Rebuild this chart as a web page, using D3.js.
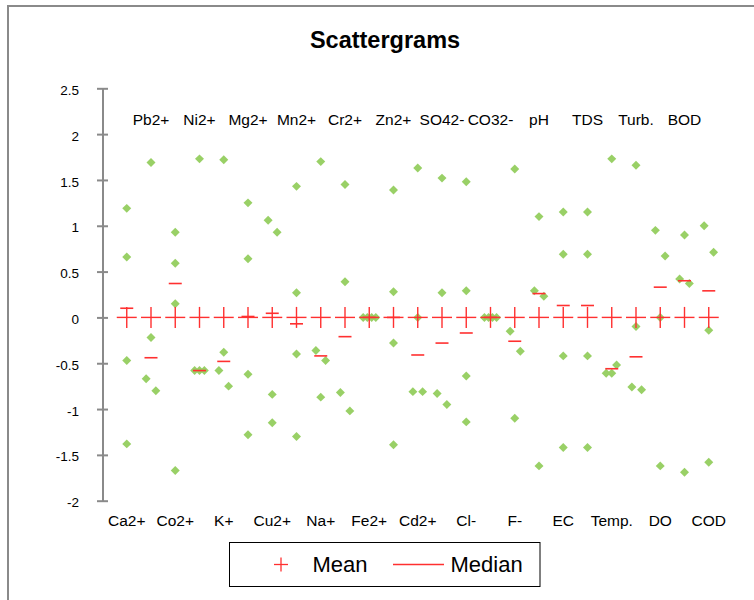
<!DOCTYPE html>
<html>
<head>
<meta charset="utf-8">
<script src="https://cdn.jsdelivr.net/npm/d3@7"></script>
<style>
  html, body { margin: 0; padding: 0; background: #fff; }
  svg { display: block; font-family: "Liberation Sans", Arial, sans-serif; }
</style>
</head>
<body>
<svg id="chart" width="754" height="600"></svg>
<script>
// ---- data ----
const categories = ["Ca2+","Pb2+","Co2+","Ni2+","K+","Mg2+","Cu2+","Mn2+","Na+","Cr2+","Fe2+","Zn2+","Cd2+",
                    "SO42-","Cl-","CO32-","F-","pH","EC","TDS","Temp.","Turb.","DO","BOD","COD"];
// four standardized observations per category
const pointValues = [
  [1.19, 0.66, -0.47, -1.38],
  [1.69, -0.22, -0.67, -0.80],
  [0.93, 0.59, 0.15, -1.67],
  [1.73, -0.58, -0.58, -0.58],
  [1.72, -0.38, -0.58, -0.75],
  [1.25, 0.64, -0.62, -1.28],
  [1.06, 0.93, -0.84, -1.15],
  [1.43, 0.27, -0.40, -1.30],
  [1.70, -0.36, -0.47, -0.87],
  [1.45, 0.39, -0.82, -1.02],
  [0.00, 0.00, 0.00, 0.00],
  [1.39, 0.28, -0.28, -1.39],
  [1.63, 0.00, -0.81, -0.81],
  [1.52, 0.27, -0.83, -0.95],
  [1.48, 0.29, -0.64, -1.14],
  [0.00, 0.00, 0.00, 0.00],
  [1.62, -0.15, -0.37, -1.10],
  [1.10, 0.29, 0.23, -1.62],
  [1.15, 0.69, -0.42, -1.42],
  [1.15, 0.69, -0.42, -1.42],
  [1.73, -0.61, -0.61, -0.52],
  [1.66, -0.10, -0.76, -0.79],
  [0.95, 0.67, 0.00, -1.62],
  [0.90, 0.42, 0.37, -1.69],
  [1.00, 0.71, -0.14, -1.58]
];
// x position of each observation relative to its category (category units)
const pointOffsets = [
  [0, 0, 0, 0],
  [0, 0, -0.2, 0.2],
  [0, 0, 0, 0],
  [0, -0.2, 0, 0.2],
  [0, 0, -0.2, 0.2],
  [0, 0, 0, 0],
  [-0.17, 0.2, 0, 0],
  [0, 0, 0, 0],
  [0, -0.2, 0.2, 0],
  [0, 0, -0.19, 0.2],
  [-0.25, -0.08, 0.1, 0.27],
  [0, 0, 0, 0],
  [0, 0, -0.2, 0.2],
  [0, 0, -0.2, 0.2],
  [0, 0, 0, 0],
  [-0.25, -0.08, 0.08, 0.25],
  [0, -0.19, 0.23, 0],
  [0, -0.19, 0.2, 0],
  [0, 0, 0, 0],
  [0, 0, 0, 0],
  [0, -0.23, 0, 0.2],
  [0, 0, -0.17, 0.23],
  [-0.2, 0.2, 0, 0],
  [0, -0.2, 0.2, 0],
  [-0.19, 0.2, 0, 0]
];
const means   = [0,0,0,0,0,0,0,0,0,0,0,0,0,0,0,0,0,0,0,0,0,0,0,0,0];
const medians = [0.10,-0.44,0.37,-0.58,-0.48,0.01,0.045,-0.07,-0.42,-0.21,0,0,-0.41,
                 -0.28,-0.17,0,-0.26,0.26,0.13,0.13,-0.56,-0.43,0.33,0.40,0.29];
const yTickValues = [2.5, 2, 1.5, 1, 0.5, 0, -0.5, -1, -1.5, -2];
const yTickLabels = ["2.5","2","1.5","1","0.5","0","-0.5","-1","-1.5","-2"];
const titleText = "Scattergrams";
const legendLabels = ["Mean", "Median"];

// ---- drawing ----
const svg = d3.select("#chart");
const x = d3.scaleLinear().domain([0, 26]).range([102.5, 733]);
const y = d3.scaleLinear().domain([-2, 2.5]).range([500.7, 88.3]);
const green = "#99D066", red = "#FF3030", gray = "#8A8A8A";

// outer frame (top and left edges visible)
svg.append("path").attr("d", "M8,600 V6 H754").attr("fill", "none")
   .attr("stroke", gray).attr("stroke-width", 2);

// title
svg.append("text").attr("x", 385).attr("y", 48).attr("text-anchor", "middle")
   .attr("font-size", 23.5).attr("font-weight", "bold").attr("fill", "#000").text(titleText);

// y axis
const yAxis = d3.axisLeft(y).tickValues(yTickValues)
  .tickFormat((d, i) => yTickLabels[i]).tickSizeInner(5.5).tickSizeOuter(0).tickPadding(18);
const gy = svg.append("g").attr("transform", "translate(102.5,0)").call(yAxis);
gy.select(".domain").attr("stroke", gray).attr("stroke-width", 2);
gy.selectAll(".tick line").attr("stroke", gray).attr("stroke-width", 2).attr("x2", -5.5).attr("x1", 5.5);
gy.selectAll(".tick text").attr("font-size", 13.5).attr("fill", "#000")
  .attr("font-family", "'Liberation Sans', Arial, sans-serif").attr("dy", "0.45em");

// category labels: odd at bottom, even at top
svg.append("g").selectAll("text").data(categories).join("text")
  .attr("x", (d, i) => x(i + 1))
  .attr("y", (d, i) => i % 2 === 0 ? 526 : 125)
  .attr("text-anchor", "middle").attr("font-size", 15.5).attr("fill", "#000")
  .text(d => d);

// points (square diamonds)
const pts = [];
pointValues.forEach((vals, i) => vals.forEach((v, j) => pts.push({ cx: i + 1 + pointOffsets[i][j], v })));
const diamond = d3.symbol().type(d3.symbolSquare).size(40);
svg.append("g").selectAll("path").data(pts).join("path")
  .attr("d", diamond)
  .attr("transform", d => `translate(${x(d.cx)},${y(d.v)}) rotate(45)`)
  .attr("fill", green);

// median dashes
svg.append("g").selectAll("line").data(medians).join("line")
  .attr("x1", (d, i) => x(i + 1) - 6.5).attr("x2", (d, i) => x(i + 1) + 6.5)
  .attr("y1", d => y(d)).attr("y2", d => y(d))
  .attr("stroke", red).attr("stroke-width", 1.6);

// mean crosses
const gm = svg.append("g").selectAll("g").data(means).join("g")
  .attr("transform", (d, i) => `translate(${x(i + 1)},${y(d)})`);
gm.append("line").attr("x1", -10).attr("x2", 10).attr("stroke", red).attr("stroke-width", 1.4);
gm.append("line").attr("y1", -10.5).attr("y2", 10.5).attr("stroke", red).attr("stroke-width", 1.4);

// legend
const lg = svg.append("g");
lg.append("rect").attr("x", 229.5).attr("y", 542.5).attr("width", 310.5).attr("height", 44)
  .attr("fill", "#fff").attr("stroke", "#000").attr("stroke-width", 1);
lg.append("line").attr("x1", 274).attr("x2", 288).attr("y1", 564.5).attr("y2", 564.5).attr("stroke", red).attr("stroke-width", 1.3);
lg.append("line").attr("x1", 281).attr("x2", 281).attr("y1", 557.5).attr("y2", 571.5).attr("stroke", red).attr("stroke-width", 1.3);
lg.append("text").attr("x", 312.5).attr("y", 572).attr("font-size", 22).attr("fill", "#000").text(legendLabels[0]);
lg.append("line").attr("x1", 393).attr("x2", 444).attr("y1", 564.5).attr("y2", 564.5).attr("stroke", red).attr("stroke-width", 1.3);
lg.append("text").attr("x", 450.5).attr("y", 572).attr("font-size", 22).attr("fill", "#000").text(legendLabels[1]);
</script>
</body>
</html>
